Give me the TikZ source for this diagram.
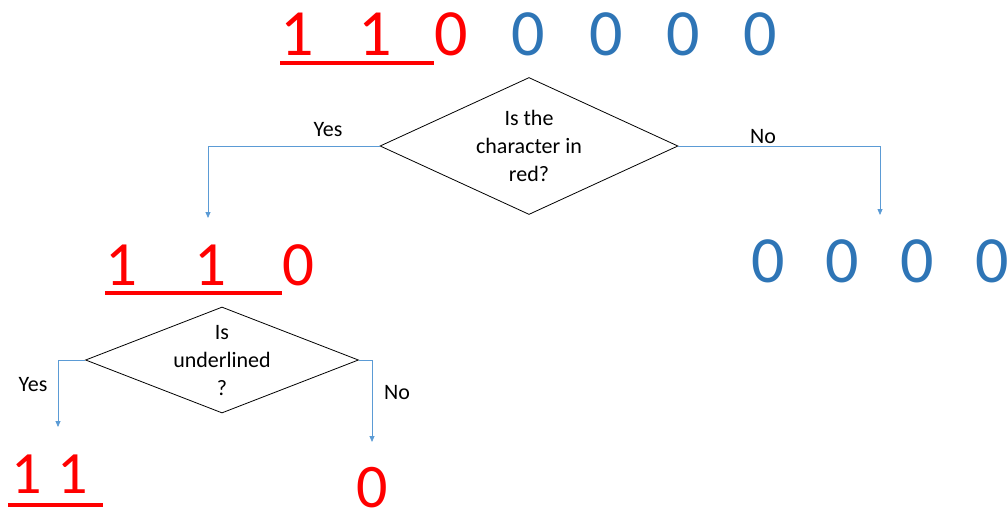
\documentclass[tikz,border=0pt]{standalone}
\usepackage{fontspec}
\setmainfont{Carlito}
\usetikzlibrary{arrows.meta,shapes.geometric}
\definecolor{digred}{RGB}{255,0,0}
\definecolor{digblue}{RGB}{46,117,182}
\definecolor{linkblue}{RGB}{91,155,213}
\tikzset{
  dig/.style={inner sep=0pt,anchor=base,font=\fontsize{#1}{#1}\selectfont},
  rdig/.style={dig=#1,text=digred},
  bdig/.style={dig=#1,text=digblue},
  uline/.style={draw=digred,line width=3.2pt},
  decision/.style={draw=black,line width=0.8pt,shape=diamond,inner sep=0pt},
  qtext/.style={align=center,inner sep=0pt,font=\fontsize{22}{28}\selectfont},
  lab/.style={inner sep=0pt,font=\fontsize{22}{26}\selectfont},
  link/.style={draw=linkblue,line width=0.8pt,-{Triangle[width=5pt,length=6pt]}}
}
\begin{document}
\begin{tikzpicture}[x=1pt,y=-1pt]
\useasboundingbox (0,0) rectangle (1008,512);
% top row
\node[rdig=66] (t1) at (297,55) {1};
\node[rdig=66] (t2) at (375,55) {1};
\node[rdig=66] (t3) at (451,55) {0};
\node[bdig=66] (t4) at (528,55) {0};
\node[bdig=66] (t5) at (606,55) {0};
\node[bdig=66] (t6) at (683,55) {0};
\node[bdig=66] (t7) at (760,55) {0};
\coordinate (tu1) at (280,63);
\coordinate (tu2) at (434,63);
\draw[uline] (tu1) -- (tu2);
% first decision
\node[decision,minimum width=298pt,minimum height=137pt] (d1) at (529,146) {};
\node[qtext] (q1) at (529,146) {Is the\\character in\\red?};
\coordinate (e1) at (208,218);
\coordinate (e2) at (880,215);
\draw[link] (d1.west) -| (e1);
\draw[link] (d1.east) -| (e2);
\node[lab] (y1) at (328,130) {Yes};
\node[lab] (n1) at (763,137) {No};
% second row left
\node[rdig=63] (m1) at (121,285) {1};
\node[rdig=63] (m2) at (210,285) {1};
\node[rdig=63] (m3) at (298,285) {0};
\coordinate (mu1) at (105,293);
\coordinate (mu2) at (282,293);
\draw[uline] (mu1) -- (mu2);
% second row right
\node[bdig=66] (r1) at (768,282) {0};
\node[bdig=66] (r2) at (842,282) {0};
\node[bdig=66] (r3) at (917,282) {0};
\node[bdig=66] (r4) at (992,282) {0};
% second decision
\node[decision,minimum width=273pt,minimum height=106pt] (d2) at (222,360) {};
\node[qtext] (q2) at (222,361) {Is\\underlined\\?};
\coordinate (e3) at (58,427);
\coordinate (e4) at (372,442);
\draw[link] (d2.west) -| (e3);
\draw[link] (d2.east) -| (e4);
\node[lab] (y2) at (33,385) {Yes};
\node[lab] (n2) at (397,393) {No};
% bottom
\node[rdig=60] (b1) at (27,493) {1};
\node[rdig=60] (b2) at (73,493) {1};
\coordinate (bu1) at (8,505);
\coordinate (bu2) at (103,505);
\draw[uline] (bu1) -- (bu2);
\node[rdig=62] (b3) at (372,507) {0};
\end{tikzpicture}
\end{document}
